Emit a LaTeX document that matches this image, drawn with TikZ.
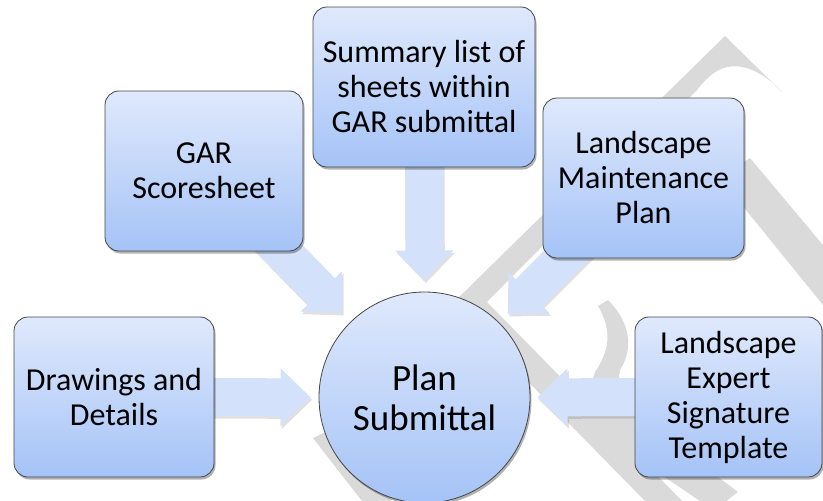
\documentclass[tikz,border=0pt]{standalone}
\usepackage{fontspec}
\setmainfont{Carlito}
\usetikzlibrary{calc,shadows,backgrounds}
\definecolor{boxtop}{RGB}{223,233,252}
\definecolor{boxbot}{RGB}{165,195,247}
\definecolor{arrfill}{RGB}{212,225,250}
\definecolor{wm}{RGB}{218,218,218}
\definecolor{edge}{RGB}{70,70,70}
\newcommand\boxfont{\fontsize{32}{35}\selectfont}
\newcommand\hubfont{\fontsize{37}{40}\selectfont}
\newcommand\blockarrow[2]{%
  \coordinate (ba-c) at ($(#2)!30pt!(#1)$);
  \fill[arrowshadow] ($(#1)!19pt!90:(#2)$) -- ($(ba-c)!19pt!90:(#2)$) -- ($(ba-c)!29pt!90:(#2)$) -- (#2) -- ($(ba-c)!29pt!-90:(#2)$) -- ($(ba-c)!19pt!-90:(#2)$) -- ($(#1)!19pt!-90:(#2)$) -- cycle;
  \fill[arrowbody] ($(#1)!19pt!90:(#2)$) -- ($(ba-c)!19pt!90:(#2)$) -- ($(ba-c)!29pt!90:(#2)$) -- (#2) -- ($(ba-c)!29pt!-90:(#2)$) -- ($(ba-c)!19pt!-90:(#2)$) -- ($(#1)!19pt!-90:(#2)$) -- cycle;
}
\tikzset{
  box/.style={draw=edge, line width=0.8pt, rounded corners=14pt, top color=boxtop, bottom color=boxbot,
    minimum height=160pt, inner sep=0pt, align=center, font=\boxfont,
    drop shadow={opacity=0.3, shadow xshift=1.5pt, shadow yshift=-2.5pt, fill=black}},
  hub/.style={circle, draw=edge, line width=0.8pt, top color=boxtop, bottom color=boxbot,
    minimum size=211pt, inner sep=0pt, align=center, font=\hubfont,
    drop shadow={opacity=0.3, shadow xshift=1.5pt, shadow yshift=-2.5pt, fill=black}},
  arrowbody/.style={fill=arrfill},
  arrowshadow/.style={fill=black, opacity=0.12, transform canvas={shift={(1.5pt,-2.5pt)}}},
  wmark/.style={fill=wm}
}
\begin{document}
\begin{tikzpicture}[x=1pt,y=-1pt]
\useasboundingbox (0,0) rectangle (823,501);
\node[box, minimum width=222pt] (summ) at (424,87) {Summary list of\\sheets within\\GAR submittal};
\node[box, minimum width=198pt] (gar) at (204,171) {GAR\\Scoresheet};
\node[box, minimum width=201pt] (maint) at (643.5,178) {Landscape\\Maintenance\\Plan};
\node[box, minimum width=200pt] (dd) at (114,397) {Drawings and\\Details};
\node[box, minimum width=187pt] (lexp) at (728.5,397) {Landscape\\Expert\\Signature\\Template};
\node[hub] (plan) at (424.5,397.5) {Plan\\Submittal};
\coordinate (tg) at ($(plan.center)!118pt!(gar.center)$);
\coordinate (tm) at ($(plan.center)!118pt!(maint.center)$);
\coordinate (ts) at ($(plan.center)!117pt!(summ.center)$);
\coordinate (td) at ($(plan.center)!114pt!(dd.center)$);
\coordinate (te) at ($(plan.center)!113pt!(lexp.center)$);
\begin{scope}[on background layer]
  % watermark
  \fill[wmark] (452,304) -- (725,36) -- (782,92) -- (775,85)
     .. controls (758,70) and (742,64) .. (727,67)
     .. controls (714,70) and (705,80) .. (697,90) -- (487,302) -- (682,501) -- (645,501) -- cycle;
  \fill[wmark] (750,158) -- (823,245) -- (823,305) -- (720,178) -- cycle;
  \fill[wmark] (598,306) -- (608,300) .. controls (630,322) and (634,348) .. (620,370)
     -- (615,400) -- (738,492) -- (725,502) -- (700,501) -- (580,420) -- (595,372)
     .. controls (610,350) and (612,330) .. cycle;
  \fill[wmark] (313,438) -- (330,430) -- (392,501) -- (362,501) -- cycle;
  % arrows
  \blockarrow{gar.center}{tg}
  \blockarrow{maint.center}{tm}
  \blockarrow{summ.center}{ts}
  \blockarrow{dd.center}{td}
  \blockarrow{lexp.center}{te}
\end{scope}
\end{tikzpicture}
\end{document}
